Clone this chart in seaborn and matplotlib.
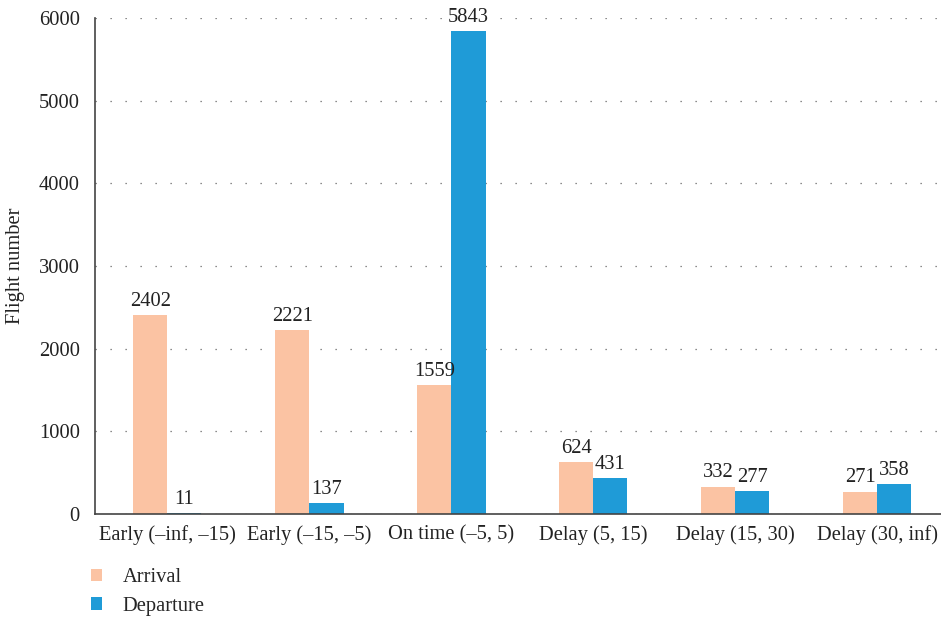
import matplotlib
matplotlib.use("Agg")
import matplotlib.pyplot as plt
import seaborn as sns
import pandas as pd
from matplotlib.patches import Patch

categories = ["Early (–inf, –15)", "Early (–15, –5)", "On time (–5, 5)",
              "Delay (5, 15)", "Delay (15, 30)", "Delay (30, inf)"]
arrival = [2402, 2221, 1559, 624, 332, 271]
departure = [11, 137, 5843, 431, 277, 358]
series = ["Arrival", "Departure"]
colors = ["#FBC3A3", "#1F9BD7"]
yticks = [0, 1000, 2000, 3000, 4000, 5000, 6000]

df = pd.DataFrame({
    "category": categories * 2,
    "count": arrival + departure,
    "type": [series[0]] * len(categories) + [series[1]] * len(categories),
})

sns.set_theme(style="white")
plt.rcParams["font.family"] = ["Liberation Serif", "DejaVu Serif"]
FS = 14.8

fig = plt.figure(figsize=(9.41, 6.17), dpi=100)
ax = fig.add_axes([95 / 941, (617 - 514) / 617, 852 / 941, 496 / 617])

sns.barplot(data=df, x="category", y="count", hue="type", palette=colors,
            width=0.48, saturation=1, ax=ax, legend=False, order=categories,
            hue_order=series, linewidth=0, edgecolor="none")

for cont in ax.containers:
    ax.bar_label(cont, padding=3, fontsize=FS, color="#222222")

ax.set_ylim(0, 6000)
ax.set_xlim(-0.51, 5.49)
ax.set_yticks(yticks)
ax.set_yticklabels([str(v) for v in yticks])
ax.yaxis.grid(True, linestyle=(0, (1, 11)), color="#666666", linewidth=0.9)
ax.set_axisbelow(True)
for s in ["top", "right"]:
    ax.spines[s].set_visible(False)
for s in ["left", "bottom"]:
    ax.spines[s].set_color("#444444")
    ax.spines[s].set_linewidth(1.2)
ax.tick_params(axis="both", length=0, labelsize=FS, colors="#222222")
ax.tick_params(axis="y", pad=11)
ax.tick_params(axis="x", pad=8)
ax.set_xlabel("")
ax.set_ylabel("Flight number", fontsize=FS, color="#222222", labelpad=10)

handles = [Patch(facecolor=c, edgecolor="none") for c in colors]
fig.legend(handles, series, loc="upper left", bbox_to_anchor=(0.088, 0.092),
           frameon=False, fontsize=FS, handlelength=0.55, handleheight=0.55,
           handletextpad=1.0, labelspacing=0.45, borderaxespad=0)

fig.savefig("out.png", dpi=100)
